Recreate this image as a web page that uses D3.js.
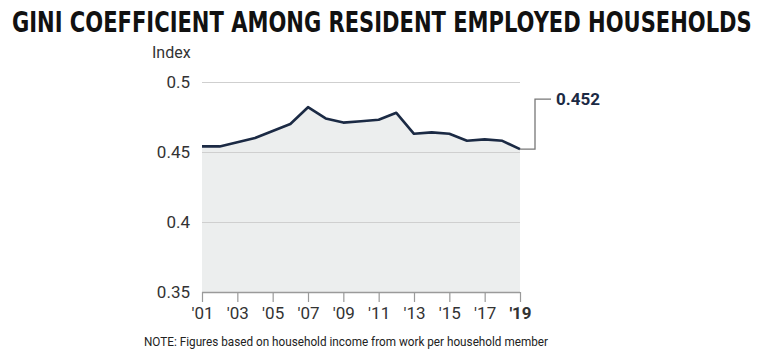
<!DOCTYPE html>
<html>
<head>
<meta charset="utf-8">
<script src="https://cdn.jsdelivr.net/npm/d3@7"></script>
<style>
  body { margin: 0; background: #fff; }
  svg { display: block; }
</style>
</head>
<body>
<div id="chart"></div>
<script>
// data
const years = [2001, 2002, 2003, 2004, 2005, 2006, 2007, 2008, 2009, 2010,
               2011, 2012, 2013, 2014, 2015, 2016, 2017, 2018, 2019];
const gini = [0.454, 0.454, 0.457, 0.460, 0.465, 0.470, 0.482, 0.474, 0.471, 0.472,
              0.473, 0.478, 0.463, 0.464, 0.463, 0.458, 0.459, 0.458, 0.452];
const yTicks = [0.35, 0.4, 0.45, 0.5];
const xTicks = [2001, 2003, 2005, 2007, 2009, 2011, 2013, 2015, 2017, 2019];

const width = 768, height = 354;
const margin = { top: 82, right: 248, bottom: 62, left: 202 };
const visWidth = width - margin.left - margin.right;
const visHeight = height - margin.top - margin.bottom;

const data = years.map((yr, i) => ({ year: yr, value: gini[i] }));

const x = d3.scaleLinear().domain([2001, 2019]).range([0, visWidth]);
const y = d3.scaleLinear().domain([0.35, 0.5]).range([visHeight, 0]);

const svg = d3.select('#chart').append('svg')
    .attr('width', width)
    .attr('height', height);

// title - scaled to span the same width as the original
const title = svg.append('text')
    .attr('x', 0)
    .attr('y', 0)
    .attr('font-family', '"Liberation Sans Narrow", "DejaVu Sans Condensed", sans-serif')
    .attr('font-weight', 'bold')
    .attr('font-size', 28)
    .attr('fill', '#111')
    .text('GINI COEFFICIENT AMONG RESIDENT EMPLOYED HOUSEHOLDS');
const tw = title.node().getComputedTextLength();
title.attr('transform', `translate(12, 32) scale(${740 / tw}, 1)`);

const g = svg.append('g')
    .attr('transform', `translate(${margin.left}, ${margin.top})`);

// shaded area under line
g.append('path')
    .datum(data)
    .attr('fill', '#eceeee')
    .attr('d', d3.area()
        .x(d => x(d.year))
        .y0(y(0.35))
        .y1(d => y(d.value)));

// grid lines + y labels
const yAxis = g.append('g')
    .call(d3.axisLeft(y).tickValues(yTicks).tickSize(0).tickPadding(12)
        .tickFormat(d => d3.format('')(d)))
    .call(g => g.select('.domain').remove());
yAxis.selectAll('.tick line')
    .attr('x1', 0)
    .attr('x2', visWidth)
    .attr('stroke', d => d === 0.35 ? '#9a9a9a' : '#cfcfcf')
    .attr('stroke-width', d => d === 0.35 ? 1.5 : 1.2);
yAxis.selectAll('.tick text')
    .attr('font-family', 'Roboto, "Noto Sans", sans-serif')
    .attr('font-size', 17)
    .attr('fill', '#333');

// x axis
const xAxis = g.append('g')
    .attr('transform', `translate(0, ${visHeight})`)
    .call(d3.axisBottom(x).tickValues(xTicks).tickSize(10).tickPadding(5)
        .tickFormat(d => "'" + String(d).slice(2)))
    .call(g => g.select('.domain').remove());
xAxis.selectAll('.tick line').attr('stroke', '#9a9a9a').attr('stroke-width', 1.2);
xAxis.selectAll('.tick text')
    .attr('font-family', 'Roboto, "Noto Sans", sans-serif')
    .attr('font-size', 17)
    .attr('fill', '#333')
    .attr('font-weight', d => d === 2019 ? 'bold' : 'normal');

// index label
g.append('text')
    .attr('x', -50)
    .attr('y', -24)
    .attr('font-family', 'Roboto, "Noto Sans", sans-serif')
    .attr('font-size', 16)
    .attr('fill', '#333')
    .text('Index');

// line
g.append('path')
    .datum(data)
    .attr('fill', 'none')
    .attr('stroke', '#1b2a44')
    .attr('stroke-width', 2.6)
    .attr('stroke-linejoin', 'round')
    .attr('d', d3.line().x(d => x(d.year)).y(d => y(d.value)));

// callout for last value
const last = data[data.length - 1];
const lx = x(last.year), ly = y(last.value);
g.append('path')
    .attr('fill', 'none')
    .attr('stroke', '#777')
    .attr('stroke-width', 1.3)
    .attr('d', `M${lx},${ly} H${lx + 15} V${ly - 50} H${lx + 31}`);
g.append('text')
    .attr('x', lx + 36)
    .attr('y', ly - 44)
    .attr('font-family', 'Roboto, "Noto Sans", sans-serif')
    .attr('font-weight', 'bold')
    .attr('font-size', 17)
    .attr('fill', '#1b2a44')
    .text(last.value.toFixed(3));

// note
svg.append('text')
    .attr('x', 144)
    .attr('y', 346)
    .attr('textLength', 404)
    .attr('lengthAdjust', 'spacingAndGlyphs')
    .attr('font-family', 'Roboto, "Noto Sans", sans-serif')
    .attr('font-size', 13)
    .attr('fill', '#222')
    .text('NOTE: Figures based on household income from work per household member');
</script>
</body>
</html>
